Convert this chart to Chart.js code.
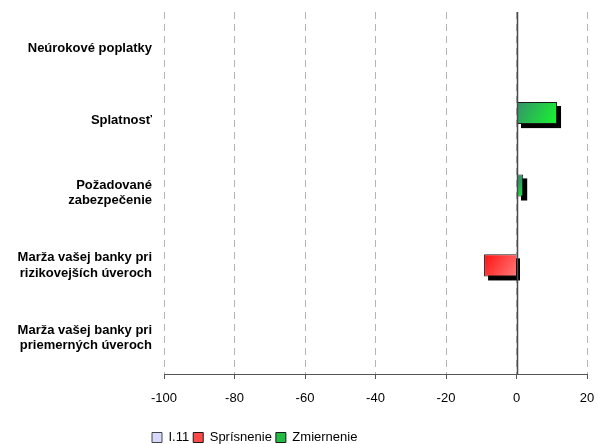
<!DOCTYPE html>
<html>
<head>
<meta charset="utf-8">
<script src="https://cdn.jsdelivr.net/npm/chart.js@4"></script>
<style>
  body { margin: 0; background: #fff; }
  #wrap { width: 598px; height: 444px; }
</style>
</head>
<body>
<div id="wrap"><canvas id="chart"></canvas></div>
<script>
// Categories (top to bottom)
const categories = [
  "Neúrokové poplatky",
  "Splatnosť",
  ["Požadované", "zabezpečenie"],
  ["Marža vašej banky pri", "rizikovejších úveroch"],
  ["Marža vašej banky pri", "priemerných úveroch"]
];

// Series values
const i11Values = [null, null, null, null, null];
const sprisnenieValues = [null, null, null, -9.2, null];
const zmiernenieValues = [null, 11.5, 1.9, null, null];

// X tick range
const xMin = -100;
const xMax = 20;
const xStep = 20;

function barGradient(context, c1, c2, flat) {
  const chart = context.chart;
  const v = context.raw;
  if (!chart.chartArea || v === null || v === undefined) return flat;
  const xs = chart.scales.x;
  const ys = chart.scales.y;
  const x0 = xs.getPixelForValue(0);
  const x1 = xs.getPixelForValue(v);
  const yc = ys.getPixelForValue(context.dataIndex);
  const g = chart.ctx.createLinearGradient(Math.min(x0, x1), yc - 11, Math.max(x0, x1), yc + 11);
  g.addColorStop(0, c1);
  g.addColorStop(1, c2);
  return g;
}

// shadow behind the bars, solid zero line, legend nudge
const extras = {
  id: "extras",
  afterLayout(chart) {
    const lg = chart.legend;
    const shift = 148 - lg.left;
    lg.left += shift;
    lg.right += shift;
  },
  beforeDatasetsDraw(chart) {
    const ctx = chart.ctx;
    ctx.save();
    // drop shadows from the bar elements
    ctx.fillStyle = "#000";
    chart.data.datasets.forEach((ds, di) => {
      const meta = chart.getDatasetMeta(di);
      meta.data.forEach((el, i) => {
        if (ds.data[i] === null) return;
        const p = el.getProps(["x", "y", "base", "height"], true);
        const left = Math.min(p.x, p.base);
        const w = Math.abs(p.x - p.base);
        ctx.fillRect(left + 4, p.y - p.height / 2 + 4, w, p.height);
      });
    });
    ctx.restore();
  },
  afterDatasetsDraw(chart) {
    const ctx = chart.ctx;
    const xs = chart.scales.x;
    const a = chart.chartArea;
    const x0 = Math.round(xs.getPixelForValue(0)) + 0.5;
    ctx.save();
    ctx.strokeStyle = "#4a4a4a";
    ctx.lineWidth = 1.5;
    ctx.beginPath();
    ctx.moveTo(x0, a.top);
    ctx.lineTo(x0, a.bottom);
    ctx.stroke();
    ctx.restore();
  }
};

Chart.defaults.font.family = "'Liberation Sans', Arial, sans-serif";
Chart.defaults.color = "#000";

new Chart(document.getElementById("chart"), {
  type: "bar",
  data: {
    labels: categories,
    datasets: [
      {
        label: "Zmiernenie",
        data: zmiernenieValues,
        backgroundColor: (c) => barGradient(c, "#339966", "#14ff28", "#22bb44"),
        borderColor: "#1a1a1a",
        borderWidth: 1
      },
      {
        label: "Sprísnenie",
        data: sprisnenieValues,
        backgroundColor: (c) => barGradient(c, "#ff1010", "#ff7a7a", "#ff4848"),
        borderColor: "#1a1a1a",
        borderWidth: 1
      },
      {
        label: "I.11",
        data: i11Values,
        backgroundColor: "#d8d8ff",
        borderColor: "#444",
        borderWidth: 1
      }
    ]
  },
  options: {
    indexAxis: "y",
    responsive: true,
    maintainAspectRatio: false,
    animation: false,
    categoryPercentage: 0.3125,
    barPercentage: 2.93,
    layout: { padding: { left: 0, right: 11, top: 12, bottom: -10 } },
    plugins: {
      legend: {
        position: "bottom",
        align: "start",
        reverse: true,
        labels: {
          boxWidth: 10,
          boxHeight: 10,
          padding: 4,
          font: { size: 13 }
        }
      },
      tooltip: { enabled: false }
    },
    scales: {
      x: {
        min: xMin,
        max: xMax,
        ticks: {
          stepSize: xStep,
          padding: 12,
          font: { size: 13 },
          maxRotation: 0
        },
        grid: {
          color: "#b4b4b4",
          tickColor: "#555",
          tickLength: 5,
          lineWidth: 1
        },
        border: { display: true, color: "#555", dash: [7, 5] },
        afterFit(scale) {
          scale.height = 53;
          scale.paddingLeft = 0;
          scale.paddingRight = 0;
        }
      },
      y: {
        grid: { display: false },
        border: { display: false },
        ticks: {
          padding: 4,
          font: { size: 13, weight: "bold" }
        },
        afterFit(scale) {
          scale.width = 164;
          scale.paddingTop = 0;
          scale.paddingBottom = 0;
        }
      }
    }
  },
  plugins: [extras]
});
</script>
</body>
</html>
